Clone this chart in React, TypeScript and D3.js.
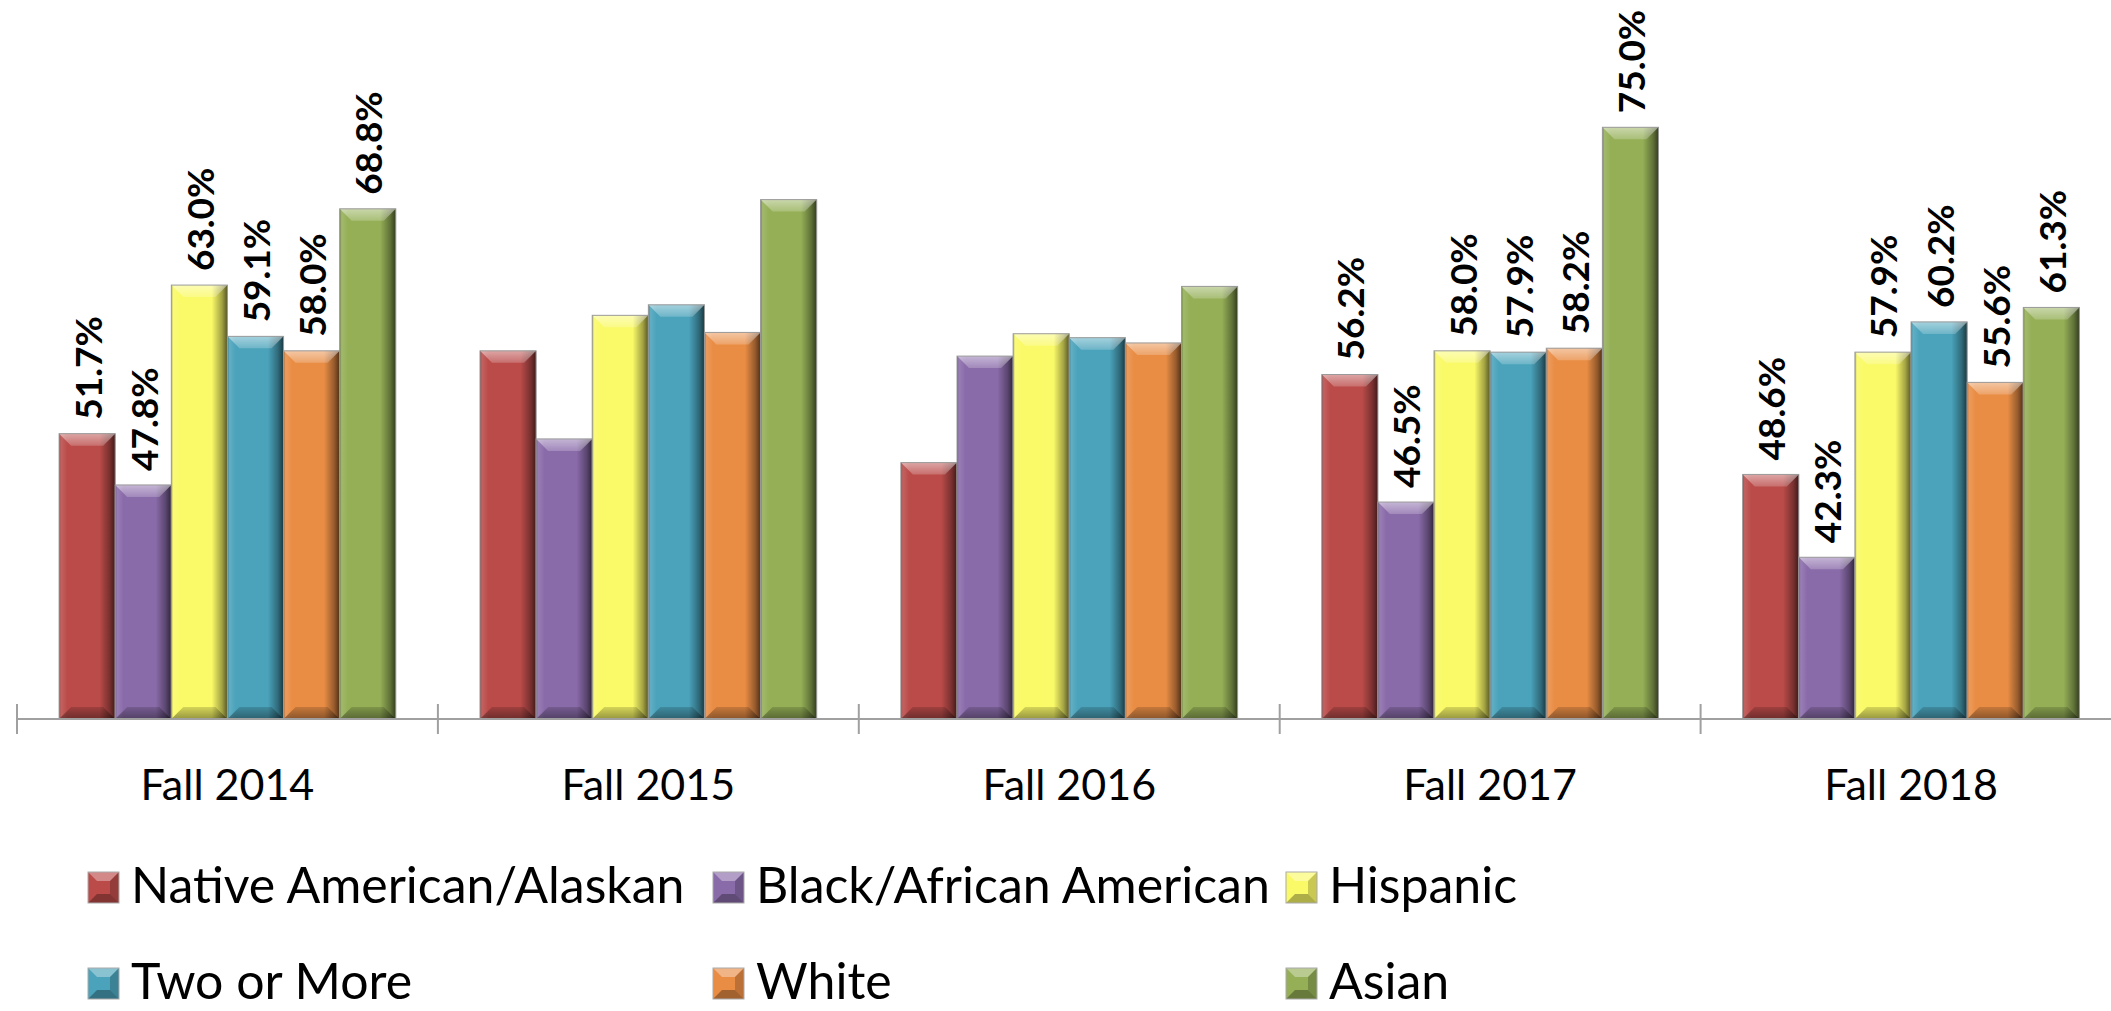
import React from "react";
import * as d3 from "d3";

const categories = ["Fall 2014", "Fall 2015", "Fall 2016", "Fall 2017", "Fall 2018"];
const seriesNames = [
  "Native American/Alaskan",
  "Black/African American",
  "Hispanic",
  "Two or More",
  "White",
  "Asian",
];
const nativeAmerican = [51.7, 58.0, 49.5, 56.2, 48.6];
const blackAfricanAmerican = [47.8, 51.3, 57.6, 46.5, 42.3];
const hispanic = [63.0, 60.7, 59.3, 58.0, 57.9];
const twoOrMore = [59.1, 61.5, 59.0, 57.9, 60.2];
const white = [58.0, 59.4, 58.6, 58.2, 55.6];
const asian = [68.8, 69.5, 62.9, 75.0, 61.3];
const labelledCategories = ["Fall 2014", "Fall 2017", "Fall 2018"];
const yDomain = [30, 80];

const seriesValues = [nativeAmerican, blackAfricanAmerican, hispanic, twoOrMore, white, asian];
const colors = ["#BA4B49", "#8A6BAA", "#FAFA68", "#4AA3BB", "#E98D45", "#94AF56"];

const W = 2111;
const H = 1011;
const FONT = "Lato, 'Open Sans', sans-serif";

export default function App() {
  const plotLeft = 17;
  const catStep = 420.9;
  const baseline = 719;
  const x0 = d3
    .scaleBand<string>()
    .domain(categories)
    .range([plotLeft, plotLeft + catStep * categories.length])
    .paddingInner(0)
    .paddingOuter(0);
  const x1 = d3
    .scaleBand<string>()
    .domain(seriesNames)
    .range([0, x0.bandwidth()])
    .paddingInner(0)
    .paddingOuter(0.75);
  const y = d3.scaleLinear().domain(yDomain).range([baseline, baseline - 50 * 13.149]);
  const fmt = d3.format(".1f");

  const bars: any[] = [];
  categories.forEach((c, ci) => {
    seriesNames.forEach((s, si) => {
      const v = seriesValues[si][ci];
      bars.push({ c, s, si, v, x: (x0(c) as number) + (x1(s) as number), w: x1.bandwidth(), y: y(v) });
    });
  });

  const bevel = 12;
  const legendItems = [
    { si: 0, mx: 88, row: 0 },
    { si: 1, mx: 713, row: 0 },
    { si: 2, mx: 1286, row: 0 },
    { si: 3, mx: 88, row: 1 },
    { si: 4, mx: 713, row: 1 },
    { si: 5, mx: 1286, row: 1 },
  ];
  const rowBase = [903, 999];

  const tickXs = d3.range(categories.length + 1).map((i) => plotLeft + i * x0.step());

  return (
    <svg
      width={W}
      height={H}
      style={{ position: "absolute", left: 0, top: 0, background: "#fff" }}
      fontFamily={FONT}
    >
      <defs>
        <linearGradient id="side" x1="0" y1="0" x2="1" y2="0">
          <stop offset="0" stopColor="#000" stopOpacity="0.35" />
          <stop offset="0.04" stopColor="#fff" stopOpacity="0.12" />
          <stop offset="0.15" stopColor="#fff" stopOpacity="0.0" />
          <stop offset="0.72" stopColor="#000" stopOpacity="0.0" />
          <stop offset="0.9" stopColor="#000" stopOpacity="0.35" />
          <stop offset="1" stopColor="#000" stopOpacity="0.65" />
        </linearGradient>
        <linearGradient id="topbev" x1="0" y1="0" x2="0" y2="1">
          <stop offset="0" stopColor="#fff" stopOpacity="0.5" />
          <stop offset="1" stopColor="#fff" stopOpacity="0.2" />
        </linearGradient>
        <linearGradient id="botbev" x1="0" y1="0" x2="0" y2="1">
          <stop offset="0" stopColor="#000" stopOpacity="0.15" />
          <stop offset="1" stopColor="#000" stopOpacity="0.4" />
        </linearGradient>
      </defs>

      {bars.map((b, i) => {
        const h = baseline - b.y;
        const bv = Math.min(bevel, h / 2);
        const xl = b.x;
        const xr = b.x + b.w;
        const yt = b.y;
        const yb = baseline;
        return (
          <g key={i}>
            <rect x={xl} y={yt} width={b.w} height={h} fill={colors[b.si]} />
            <rect x={xl} y={yt} width={b.w} height={h} fill="url(#side)" />
            <polygon
              points={`${xl},${yt} ${xr},${yt} ${xr - bv},${yt + bv} ${xl + bv},${yt + bv}`}
              fill="url(#topbev)"
            />
            <polygon
              points={`${xl},${yb} ${xr},${yb} ${xr - bv},${yb - bv} ${xl + bv},${yb - bv}`}
              fill="url(#botbev)"
            />
            <rect x={xl} y={yt} width={b.w} height={h} fill="none" stroke="#9a9a9a" strokeWidth={1} />
          </g>
        );
      })}

      {/* axis */}
      <line x1={plotLeft} x2={W} y1={baseline} y2={baseline} stroke="#a0a0a0" strokeWidth={2} />
      {tickXs.map((tx, i) => (
        <line key={i} x1={tx} x2={tx} y1={baseline - 15} y2={baseline + 15} stroke="#a0a0a0" strokeWidth={2} />
      ))}

      {/* category labels */}
      {categories.map((c) => (
        <text
          key={c}
          x={(x0(c) as number) + x0.bandwidth() / 2}
          y={800}
          textAnchor="middle"
          fontSize={43}
          fill="#000"
        >
          {c}
        </text>
      ))}

      {/* data labels */}
      {bars
        .filter((b) => labelledCategories.includes(b.c))
        .map((b, i) => (
          <text
            key={i}
            transform={`translate(${b.x + b.w / 2},${b.y - 14}) rotate(-90)`}
            textAnchor="start"
            dominantBaseline="central"
            fontSize={37}
            fontWeight="bold"
            fill="#000"
          >
            {fmt(b.v) + "%"}
          </text>
        ))}

      {/* legend */}
      {legendItems.map((it) => {
        const by = rowBase[it.row];
        const mx = it.mx;
        const my = by - 31;
        const s = 31;
        const bv = 9;
        return (
          <g key={it.si}>
            <rect x={mx} y={my} width={s} height={s} fill={colors[it.si]} />
            <polygon points={`${mx},${my} ${mx + s},${my} ${mx + s - bv},${my + bv} ${mx + bv},${my + bv}`} fill="#fff" fillOpacity={0.35} />
            <polygon points={`${mx},${my + s} ${mx + s},${my + s} ${mx + s - bv},${my + s - bv} ${mx + bv},${my + s - bv}`} fill="#000" fillOpacity={0.3} />
            <polygon points={`${mx + s},${my} ${mx + s},${my + s} ${mx + s - bv},${my + s - bv} ${mx + s - bv},${my + bv}`} fill="#000" fillOpacity={0.2} />
            <rect x={mx} y={my} width={s} height={s} fill="none" stroke="#aaa" strokeWidth={1} />
            <text x={mx + 43} y={by} fontSize={50} fill="#000">
              {seriesNames[it.si]}
            </text>
          </g>
        );
      })}
    </svg>
  );
}
